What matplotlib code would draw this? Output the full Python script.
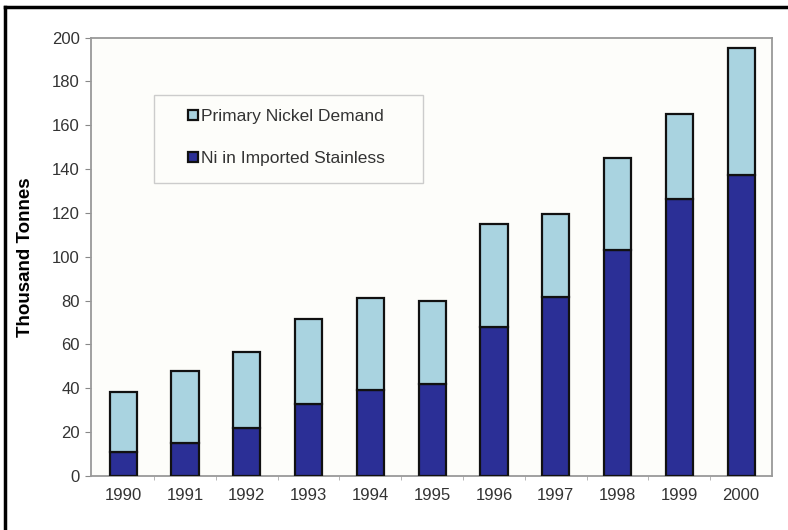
import numpy as np
from matplotlib import pyplot as plt
from matplotlib.patches import Rectangle

years = ["1990", "1991", "1992", "1993", "1994", "1995", "1996", "1997", "1998", "1999", "2000"]
ni_imported = [11, 15, 22, 33, 39, 42, 68, 81.5, 103, 126.5, 137.5]
total_demand = [38.5, 48, 56.5, 71.5, 81, 80, 115, 119.5, 145, 165, 195]
primary_demand = [t - b for t, b in zip(total_demand, ni_imported)]

yticks = [0, 20, 40, 60, 80, 100, 120, 140, 160, 180, 200]

dark = "#2B2F96"
light = "#A9D3E0"
W, H = 788, 530

plt.rcParams["font.family"] = ["Liberation Sans", "DejaVu Sans"]

fig = plt.figure(figsize=(W/100, H/100), dpi=100, facecolor="white")
ax = fig.add_axes([91/W, 1 - 476/H, (772-91)/W, (476-37.5)/H])
ax.set_facecolor("#FDFDFA")

x = np.arange(len(years))
ax.bar(x, ni_imported, width=0.44, color=dark, edgecolor="#111111", lw=1.6,
       label="Ni in Imported Stainless", zorder=3)
ax.bar(x, primary_demand, width=0.44, bottom=ni_imported, color=light, edgecolor="#111111",
       lw=1.6, label="Primary Nickel Demand", zorder=3)

ax.set_xlim(-0.52, 10.5)
ax.set_ylim(0, 200)
ax.set_yticks(yticks)
ax.set_yticklabels([str(v) for v in yticks], fontsize=12, color="#333333")
ax.set_xticks(x)
ax.set_xticklabels(years, fontsize=12, color="#333333")
ax.tick_params(axis="y", length=4, color="#888888", pad=4)
ax.tick_params(axis="x", length=0, pad=9)
ax.set_xticks(np.arange(0.5, 10, 1), minor=True)
ax.tick_params(axis="x", which="minor", length=3, color="#aaaaaa")

for s in ax.spines.values():
    s.set_color("#999999")
    s.set_linewidth(1.3)

ax.set_ylabel("Thousand Tonnes", fontsize=13.5, fontweight="bold")
ax.yaxis.set_label_coords(-0.083, 0.5)

# legend box drawn separately so the padding can match
fig.add_artist(Rectangle((154/W, 1 - 183/H), (423-154)/W, (183-95)/H, transform=fig.transFigure,
                         facecolor="#FDFDFA", edgecolor="#CCCCCC", lw=1.0, zorder=4))
h, l = ax.get_legend_handles_labels()
leg = fig.legend(h[::-1], l[::-1], loc="upper left", bbox_to_anchor=(188/W, 1 - 109/H),
                 fontsize=12.5, frameon=False, handlelength=0.55, handleheight=0.55,
                 handletextpad=0.2, labelspacing=1.57, borderpad=0, borderaxespad=0)
leg.set_zorder(5)
for t in leg.get_texts():
    t.set_color("#333333")

# outer border (only top and left visible in the crop)
fig.add_artist(plt.Line2D([5/W, 1], [1 - 7/H, 1 - 7/H], transform=fig.transFigure, color="black", lw=2.5))
fig.add_artist(plt.Line2D([5/W, 5/W], [0, 1 - 7/H], transform=fig.transFigure, color="black", lw=2.5))

plt.savefig("out.png", dpi=100)
